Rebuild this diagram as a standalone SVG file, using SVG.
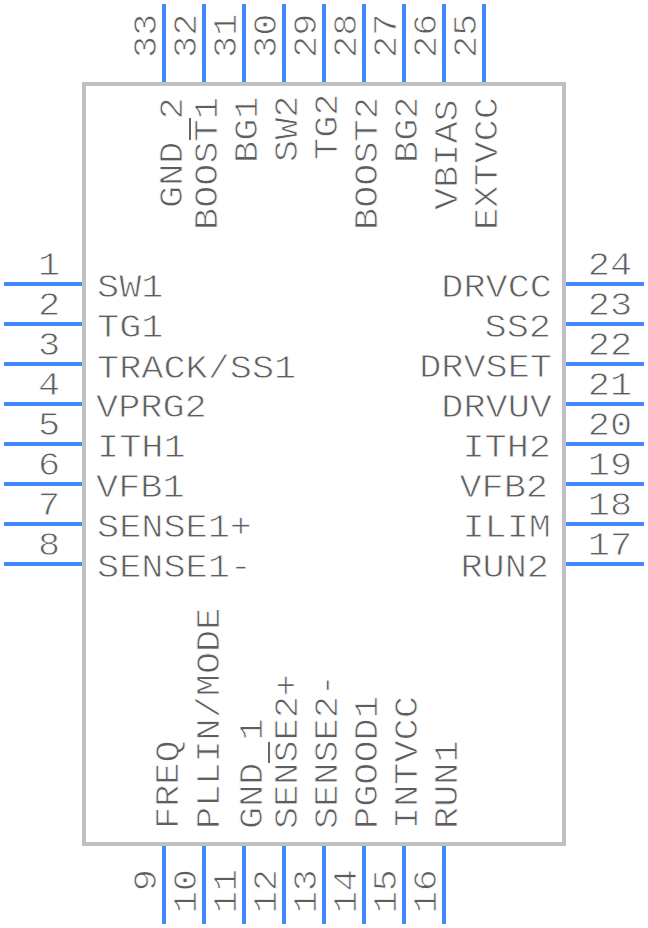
<svg xmlns="http://www.w3.org/2000/svg" width="648" height="928" viewBox="0 0 648 928">
<style>
text{font-family:"Liberation Mono",monospace;font-size:34px;fill:#5e5e5e;stroke:#fff;stroke-width:.8px}
.p{stroke:#4488ff;stroke-width:4;fill:none}
.o{stroke:#666;stroke-width:2;fill:none}
.e{text-anchor:end}
.m{text-anchor:middle}
</style>
<rect width="648" height="928" fill="#fff"/>
<g id="body"><rect x="84" y="84" width="480" height="760" fill="none" stroke="#c0c0c0" stroke-width="4"/></g>
<g id="connectors">
<path class="p" d="M4 284H82M4 324H82M4 364H82M4 404H82M4 444H82M4 484H82M4 524H82M4 564H82"/>
<path class="p" d="M566 284H644M566 324H644M566 364H644M566 404H644M566 444H644M566 484H644M566 524H644M566 564H644"/>
<path class="p" d="M164 4V82M204 4V82M244 4V82M284 4V82M324 4V82M364 4V82M404 4V82M444 4V82M484 4V82"/>
<path class="p" d="M164 846V924M204 846V924M244 846V924M284 846V924M324 846V924M364 846V924M404 846V924M444 846V924"/>
</g>
<g id="pin1"><text class="m" transform="translate(49 275) scale(1.085 1)">1</text><text transform="translate(97 297) scale(1.085 1)">SW1</text></g>
<g id="pin2"><text class="m" transform="translate(49 315) scale(1.085 1)">2</text><text transform="translate(97 337) scale(1.085 1)">TG1</text></g>
<g id="pin3"><text class="m" transform="translate(49 355) scale(1.085 1)">3</text><text transform="translate(97 378) scale(1.085 1)">TRACK/SS1</text></g>
<g id="pin4"><text class="m" transform="translate(49 395) scale(1.085 1)">4</text><text transform="translate(96 417) scale(1.085 1)">VPRG2</text></g>
<g id="pin5"><text class="m" transform="translate(49 435) scale(1.085 1)">5</text><text transform="translate(97 457) scale(1.085 1)">ITH1</text></g>
<g id="pin6"><text class="m" transform="translate(49 475) scale(1.085 1)">6</text><text transform="translate(96 497) scale(1.085 1)">VFB1</text></g>
<g id="pin7"><text class="m" transform="translate(49 515) scale(1.085 1)">7</text><text transform="translate(97 537) scale(1.085 1)">SENSE1+</text></g>
<g id="pin8"><text class="m" transform="translate(49 555) scale(1.085 1)">8</text><text transform="translate(97 577) scale(1.085 1)">SENSE1-</text></g>
<g id="pin9"><text class="e" transform="translate(156 869) rotate(-90) scale(1.085 1)">9</text><text transform="translate(178 829) rotate(-90) scale(1.085 1)">FREQ</text></g>
<g id="pin10"><text class="e" transform="translate(196 869) rotate(-90) scale(1.085 1)">10</text><text transform="translate(219 829) rotate(-90) scale(1.085 1)">PLLIN/MODE</text></g>
<g id="pin11"><text class="e" transform="translate(236 869) rotate(-90) scale(1.085 1)">11</text><text transform="translate(262 829) rotate(-90) scale(1.085 1)">GND 1</text></g>
<g id="pin12"><text class="e" transform="translate(276 869) rotate(-90) scale(1.085 1)">12</text><text transform="translate(297 829) rotate(-90) scale(1.085 1)">SENSE2+</text><path class="o" d="M269 742V763"/></g>
<g id="pin13"><text class="e" transform="translate(316 869) rotate(-90) scale(1.085 1)">13</text><text transform="translate(337 829) rotate(-90) scale(1.085 1)">SENSE2-</text></g>
<g id="pin14"><text class="e" transform="translate(356 869) rotate(-90) scale(1.085 1)">14</text><text transform="translate(377 829) rotate(-90) scale(1.085 1)">PGOOD1</text></g>
<g id="pin15"><text class="e" transform="translate(396 869) rotate(-90) scale(1.085 1)">15</text><text transform="translate(417 829) rotate(-90) scale(1.085 1)">INTVCC</text></g>
<g id="pin16"><text class="e" transform="translate(436 869) rotate(-90) scale(1.085 1)">16</text><text transform="translate(457 829) rotate(-90) scale(1.085 1)">RUN1</text></g>
<g id="pin17"><text class="m" transform="translate(610 555) scale(1.085 1)">17</text><text class="e" transform="translate(549 577) scale(1.085 1)">RUN2</text></g>
<g id="pin18"><text class="m" transform="translate(610 515) scale(1.085 1)">18</text><text class="e" transform="translate(551 537) scale(1.085 1)">ILIM</text></g>
<g id="pin19"><text class="m" transform="translate(610 475) scale(1.085 1)">19</text><text class="e" transform="translate(548 497) scale(1.085 1)">VFB2</text></g>
<g id="pin20"><text class="m" transform="translate(610 435) scale(1.085 1)">20</text><text class="e" transform="translate(551 457) scale(1.085 1)">ITH2</text></g>
<g id="pin21"><text class="m" transform="translate(610 395) scale(1.085 1)">21</text><text class="e" transform="translate(552 417) scale(1.085 1)">DRVUV</text></g>
<g id="pin22"><text class="m" transform="translate(610 355) scale(1.085 1)">22</text><text class="e" transform="translate(552 377) scale(1.085 1)">DRVSET</text></g>
<g id="pin23"><text class="m" transform="translate(610 315) scale(1.085 1)">23</text><text class="e" transform="translate(551 337) scale(1.085 1)">SS2</text></g>
<g id="pin24"><text class="m" transform="translate(610 275) scale(1.085 1)">24</text><text class="e" transform="translate(552 297) scale(1.085 1)">DRVCC</text></g>
<g id="pin25"><text transform="translate(476 58) rotate(-90) scale(1.085 1)">25</text><text transform="translate(497 230) rotate(-90) scale(1.085 1)">EXTVCC</text></g>
<g id="pin26"><text transform="translate(436 58) rotate(-90) scale(1.085 1)">26</text><text transform="translate(457 210) rotate(-90) scale(1.085 1)">VBIAS</text></g>
<g id="pin27"><text transform="translate(396 58) rotate(-90) scale(1.085 1)">27</text><text transform="translate(417 163) rotate(-90) scale(1.085 1)">BG2</text></g>
<g id="pin28"><text transform="translate(356 58) rotate(-90) scale(1.085 1)">28</text><text transform="translate(377 230) rotate(-90) scale(1.085 1)">BOOST2</text></g>
<g id="pin29"><text transform="translate(316 58) rotate(-90) scale(1.085 1)">29</text><text transform="translate(337 160) rotate(-90) scale(1.085 1)">TG2</text></g>
<g id="pin30"><text transform="translate(276 58) rotate(-90) scale(1.085 1)">30</text><text transform="translate(297 162) rotate(-90) scale(1.085 1)">SW2</text></g>
<g id="pin31"><text transform="translate(236 58) rotate(-90) scale(1.085 1)">31</text><text transform="translate(257 163) rotate(-90) scale(1.085 1)">BG1</text></g>
<g id="pin32"><text transform="translate(196 58) rotate(-90) scale(1.085 1)">32</text><text transform="translate(217 230) rotate(-90) scale(1.085 1)">BOOST1</text><path class="o" d="M190 118V140"/></g>
<g id="pin33"><text transform="translate(156 58) rotate(-90) scale(1.085 1)">33</text><text transform="translate(182 208) rotate(-90) scale(1.085 1)">GND 2</text></g>
</svg>
